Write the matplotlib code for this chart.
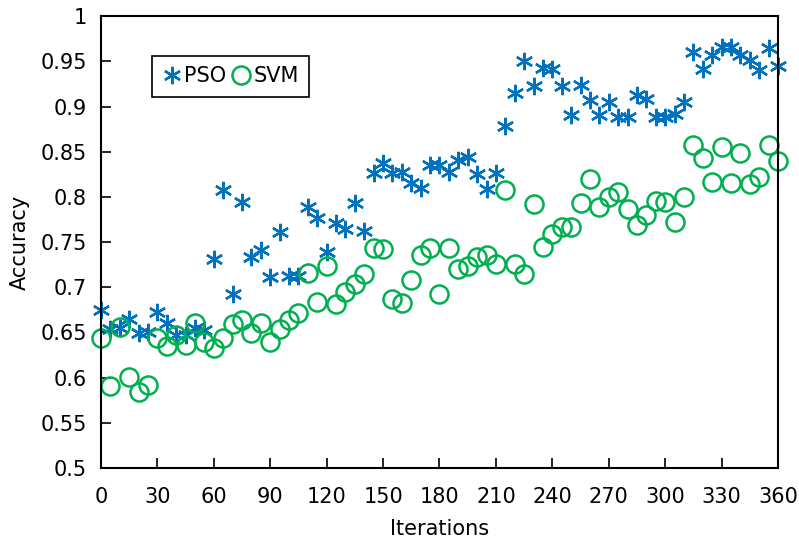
import matplotlib.pyplot as plt
import numpy as np
import matplotlib

matplotlib.rc('font', family='DejaVu Sans', size=15)

iterations = np.arange(0, 361, 5)

pso_acc = [0.675, 0.654, 0.655, 0.665, 0.649, 0.650, 0.673, 0.661, 0.647, 0.647,
	0.655, 0.653, 0.731, 0.808, 0.693, 0.794, 0.734, 0.741, 0.711, 0.761,
	0.712, 0.712, 0.789, 0.777, 0.739, 0.771, 0.765, 0.793, 0.762, 0.826,
	0.837, 0.826, 0.828, 0.815, 0.810, 0.835, 0.835, 0.828, 0.841, 0.844,
	0.825, 0.809, 0.827, 0.879, 0.915, 0.950, 0.923, 0.943, 0.942, 0.923,
	0.891, 0.924, 0.907, 0.891, 0.905, 0.889, 0.889, 0.913, 0.908, 0.889,
	0.888, 0.892, 0.905, 0.960, 0.942, 0.957, 0.966, 0.966, 0.957, 0.951,
	0.941, 0.965, 0.945]

svm_acc = [0.644, 0.591, 0.656, 0.601, 0.584, 0.592, 0.644, 0.635, 0.647, 0.636,
	0.660, 0.640, 0.633, 0.644, 0.659, 0.664, 0.649, 0.661, 0.640, 0.654,
	0.664, 0.672, 0.716, 0.684, 0.724, 0.681, 0.695, 0.704, 0.715, 0.743,
	0.742, 0.687, 0.683, 0.708, 0.736, 0.744, 0.693, 0.743, 0.720, 0.724,
	0.734, 0.736, 0.726, 0.808, 0.726, 0.715, 0.792, 0.745, 0.759, 0.767,
	0.767, 0.793, 0.820, 0.789, 0.800, 0.805, 0.787, 0.769, 0.780, 0.796,
	0.794, 0.772, 0.800, 0.857, 0.843, 0.817, 0.855, 0.815, 0.849, 0.814,
	0.822, 0.857, 0.840]

fig = plt.figure(figsize=(7.99, 5.40), dpi=100)
ax = fig.add_axes([0.1264, 0.1333, 0.8473, 0.8367])

ax.plot(iterations, pso_acc, linestyle='none', marker=(6, 2, 0), markersize=12.5,
	markeredgewidth=1.7, color='#0072BD', label='PSO', clip_on=False)
ax.plot(iterations, svm_acc, linestyle='none', marker='o', markersize=13,
	markeredgewidth=1.8, markerfacecolor='none', markeredgecolor='#00B050',
	label='SVM', clip_on=False)

ax.set_xlim(0, 360)
ax.set_ylim(0.5, 1)
ax.set_xticks(np.arange(0, 361, 30))
ax.set_yticks(np.arange(0.5, 1.001, 0.05))
ax.set_yticklabels(['0.5', '0.55', '0.6', '0.65', '0.7', '0.75', '0.8', '0.85',
	'0.9', '0.95', '1'])
ax.tick_params(direction='in', length=7, width=1.2)
ax.tick_params(axis='x', pad=14)
ax.tick_params(axis='y', pad=10)
for s in ax.spines.values():
	s.set_linewidth(1.5)

ax.set_xlabel('Iterations', labelpad=8)
ax.set_ylabel('Accuracy', labelpad=8)

leg = ax.legend(loc='upper left', bbox_to_anchor=(0.075, 0.912), ncol=2,
	handletextpad=0.15, columnspacing=0.25, handlelength=0.9, borderpad=0.5,
	borderaxespad=0, fancybox=False, framealpha=1, edgecolor='black', fontsize=15)
leg.get_frame().set_linewidth(1.2)

plt.savefig('out.png', dpi=100)
